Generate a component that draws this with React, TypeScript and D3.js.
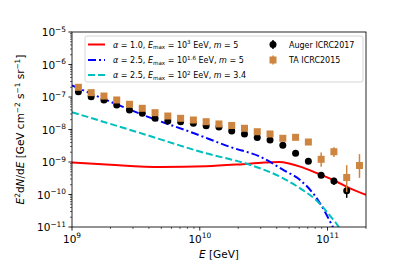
import { useEffect } from 'react';
import * as d3 from 'd3';

// Auger ICRC2017 (log10 E/GeV bin centres, E^2 dN/dE)
const augerLogE = [9.05, 9.15, 9.25, 9.35, 9.45, 9.55, 9.65, 9.75, 9.85, 9.95, 10.05, 10.15, 10.25, 10.35, 10.45, 10.55, 10.65, 10.75, 10.85, 10.95, 11.05, 11.15];
const augerFlux = [1.46e-7, 1.02e-7, 8.1e-8, 5.7e-8, 4.0e-8, 3.15e-8, 2.2e-8, 1.83e-8, 1.74e-8, 1.55e-8, 1.31e-8, 1.19e-8, 9.0e-9, 7.3e-9, 5.7e-9, 4.75e-9, 3.27e-9, 1.85e-9, 1.05e-9, 3.9e-10, 2.6e-10, 1.31e-10];
// error bars in dex (up / down)
const augerErrUp = [0.02, 0.02, 0.02, 0.02, 0.02, 0.02, 0.02, 0.02, 0.02, 0.02, 0.02, 0.02, 0.02, 0.02, 0.02, 0.02, 0.03, 0.03, 0.04, 0.06, 0.1, 0.145];
const augerErrDown = [0.02, 0.02, 0.02, 0.02, 0.02, 0.02, 0.02, 0.02, 0.02, 0.02, 0.02, 0.02, 0.02, 0.02, 0.02, 0.02, 0.03, 0.03, 0.04, 0.06, 0.12, 0.22];

// TA ICRC2015
const taLogE = [9.05, 9.15, 9.25, 9.35, 9.45, 9.55, 9.65, 9.75, 9.85, 9.95, 10.05, 10.15, 10.25, 10.35, 10.45, 10.55, 10.65, 10.75, 10.85, 10.95, 11.05, 11.15, 11.25];
const taFlux = [1.99e-7, 1.36e-7, 1.07e-7, 8.1e-8, 5.96e-8, 4.49e-8, 3.29e-8, 2.6e-8, 2.21e-8, 1.96e-8, 1.74e-8, 1.48e-8, 1.33e-8, 1.09e-8, 8.55e-9, 7.28e-9, 5.36e-9, 5.75e-9, 4.12e-9, 1.21e-9, 2.07e-9, 3.33e-10, 7.8e-10];
const taErrUp = [0.02, 0.02, 0.02, 0.02, 0.02, 0.02, 0.02, 0.02, 0.02, 0.02, 0.02, 0.02, 0.02, 0.03, 0.03, 0.03, 0.04, 0.04, 0.06, 0.21, 0.14, 0.38, 0.35];
const taErrDown = [0.02, 0.02, 0.02, 0.02, 0.02, 0.02, 0.02, 0.02, 0.02, 0.02, 0.02, 0.02, 0.02, 0.03, 0.03, 0.03, 0.04, 0.04, 0.06, 0.23, 0.16, 0.45, 0.38];

// model curves
const redE = [1e9, 2e9, 5e9, 1.12e10, 2e10, 3.2e10, 4.2e10, 5e10, 6.1e10, 8.3e10, 1.11e11, 1.5e11, 2e11];
const redFlux = [9.7e-10, 8.2e-10, 7.0e-10, 7.4e-10, 8.4e-10, 9.6e-10, 1.0e-9, 9.0e-10, 7.2e-10, 4.5e-10, 2.8e-10, 1.55e-10, 9.8e-11];

const blueE = [1e9, 2.3e9, 3.6e9, 8.9e9, 1.73e10, 3.0e10, 4.5e10, 6.1e10, 8.4e10, 1.1e11, 1.2e11];
const blueFlux = [2.26e-7, 5.7e-8, 2.8e-8, 7.8e-9, 2.9e-9, 1.43e-9, 5.7e-10, 2.8e-10, 6.8e-11, 1.0e-11, 5e-12];

const cyanE = [1e9, 3.35e9, 1.12e10, 2.5e10, 4.5e10, 6.1e10, 8.4e10, 1.06e11, 1.22e11, 1.35e11];
const cyanFlux = [3.4e-8, 8.0e-9, 1.85e-9, 8.1e-10, 3.15e-10, 1.55e-10, 6.0e-11, 2.07e-11, 1.0e-11, 4e-12];

const xTicks = [1e9, 1e10, 1e11];
const xTickExp = ['9', '10', '11'];
const yTicks = [1e-5, 1e-6, 1e-7, 1e-8, 1e-9, 1e-10, 1e-11];
const yTickExp = ['\u22125', '\u22126', '\u22127', '\u22128', '\u22129', '\u221210', '\u221211'];

const W = 407;
const H = 271;
const left = 72;
const right = 366;
const top = 32;
const bottom = 227;
const FONT = 'DejaVu Sans';

const x = d3.scaleLog().domain([1e9, 2e11]).range([left, right]);
const y = d3.scaleLog().domain([1e-11, 1e-5]).range([bottom, top]);

type Seg = { t: string; it?: boolean; sup?: boolean; sub?: boolean };

function MathText({ segs, size, ...rest }: { segs: Seg[]; size: number; [k: string]: any }) {
  // render segments with sub/superscripts via dy shifts
  let shift = 0;
  const out: any[] = [];
  segs.forEach((s, i) => {
    const target = s.sup ? -size * 0.42 : s.sub ? size * 0.22 : 0;
    const dy = target - shift;
    shift = target;
    out.push(
      <tspan
        key={i}
        dy={dy}
        fontStyle={s.it ? 'italic' : 'normal'}
        fontSize={s.sup || s.sub ? size * 0.7 : size}
      >
        {s.t}
      </tspan>
    );
  });
  return (
    <text fontFamily={FONT} fontSize={size} {...rest}>
      {out}
    </text>
  );
}

export default function App() {
  useEffect(() => {
    document.body.style.margin = '0';
  }, []);

  const mk = (es: number[], vs: number[]) =>
    d3
      .line<number>()
      .x((_, i) => x(es[i]))
      .y((_, i) => y(vs[i]))
      .curve(d3.curveMonotoneX)(vs.map((v) => v)) || '';

  const xMinor: number[] = [];
  [1e9, 1e10, 1e11].forEach((d) => {
    for (let k = 2; k <= 9; k++) if (d * k <= 2e11) xMinor.push(d * k);
  });
  const yMinor: number[] = [];
  [1e-11, 1e-10, 1e-9, 1e-8, 1e-7, 1e-6].forEach((d) => {
    for (let k = 2; k <= 9; k++) yMinor.push(d * k);
  });

  const lw = 0.85;
  const legTextX = 113;
  const legRows = [44.5, 60, 75];

  return (
    <svg width={W} height={H} style={{ position: 'absolute', left: 0, top: 0, background: '#fff' }}>
      <defs>
        <clipPath id="plotclip">
          <rect x={left} y={top} width={right - left} height={bottom - top} />
        </clipPath>
      </defs>

      <g clipPath="url(#plotclip)">
        <path d={mk(redE, redFlux)} fill="none" stroke="#ff0000" strokeWidth={2} />
        <path d={mk(blueE, blueFlux)} fill="none" stroke="#0000ff" strokeWidth={2} strokeDasharray="8,3,2,3" />
        <path d={mk(cyanE, cyanFlux)} fill="none" stroke="#00bfbf" strokeWidth={2} strokeDasharray="7,3" />

        {augerLogE.map((le, i) => {
          const cx = x(Math.pow(10, le));
          const v = augerFlux[i];
          return (
            <g key={'a' + i}>
              <line
                x1={cx}
                x2={cx}
                y1={y(v * Math.pow(10, augerErrUp[i]))}
                y2={y(v / Math.pow(10, augerErrDown[i]))}
                stroke="#000"
                strokeWidth={1.5}
              />
              <circle cx={cx} cy={y(v)} r={3.5} fill="#000" />
            </g>
          );
        })}
        {taLogE.map((le, i) => {
          const cx = x(Math.pow(10, le));
          const v = taFlux[i];
          return (
            <g key={'t' + i}>
              <line
                x1={cx}
                x2={cx}
                y1={y(v * Math.pow(10, taErrUp[i]))}
                y2={y(v / Math.pow(10, taErrDown[i]))}
                stroke="#cd853f"
                strokeWidth={1.5}
              />
              <rect x={cx - 3.5} y={y(v) - 3.5} width={7} height={7} fill="#cd853f" />
            </g>
          );
        })}
      </g>

      {/* spines */}
      <rect x={left} y={top} width={right - left} height={bottom - top} fill="none" stroke="#000" strokeWidth={lw} />

      {/* x ticks */}
      {xTicks.map((t, i) => (
        <g key={'xt' + i}>
          <line x1={x(t)} x2={x(t)} y1={bottom} y2={bottom + 3.6} stroke="#000" strokeWidth={lw} />
          <text x={x(t)} y={bottom + 15.5} fontFamily={FONT} fontSize={10.5} textAnchor="middle">
            <tspan>10</tspan>
            <tspan dy={-4.5} fontSize={7.4}>{xTickExp[i]}</tspan>
          </text>
        </g>
      ))}
      {xMinor.map((t, i) => (
        <line key={'xm' + i} x1={x(t)} x2={x(t)} y1={bottom} y2={bottom + 2} stroke="#000" strokeWidth={0.6} />
      ))}

      {/* y ticks */}
      {yTicks.map((t, i) => (
        <g key={'yt' + i}>
          <line x1={left - 3.6} x2={left} y1={y(t)} y2={y(t)} stroke="#000" strokeWidth={lw} />
          <text x={left - 6} y={y(t) + 4} fontFamily={FONT} fontSize={10.5} textAnchor="end">
            <tspan>10</tspan>
            <tspan dy={-4.5} fontSize={7.4}>{yTickExp[i]}</tspan>
          </text>
        </g>
      ))}
      {yMinor.map((t, i) => (
        <line key={'ym' + i} x1={left - 2} x2={left} y1={y(t)} y2={y(t)} stroke="#000" strokeWidth={0.6} />
      ))}

      {/* axis labels */}
      <MathText
        size={10.5}
        x={(left + right) / 2}
        y={258}
        textAnchor="middle"
        segs={[{ t: 'E', it: true }, { t: ' [GeV]' }]}
      />
      <MathText
        size={10.5}
        x={0}
        y={0}
        textAnchor="middle"
        transform={`translate(24, ${(top + bottom) / 2}) rotate(-90)`}
        segs={[
          { t: 'E', it: true },
          { t: '2', sup: true },
          { t: 'd' },
          { t: 'N', it: true },
          { t: '/d' },
          { t: 'E', it: true },
          { t: '  [GeV cm' },
          { t: '\u22122', sup: true },
          { t: ' s' },
          { t: '\u22121', sup: true },
          { t: ' sr' },
          { t: '\u22121', sup: true },
          { t: ']' },
        ]}
      />

      {/* legend */}
      <rect x={85} y={36} width={278} height={46} rx={2} fill="#fff" fillOpacity={0.8} stroke="#cccccc" strokeWidth={0.8} />
      <line x1={88} x2={105} y1={legRows[0]} y2={legRows[0]} stroke="#ff0000" strokeWidth={2} />
      <line x1={88} x2={105} y1={legRows[1]} y2={legRows[1]} stroke="#0000ff" strokeWidth={2} strokeDasharray="8,3,2,3" />
      <line x1={88} x2={105} y1={legRows[2]} y2={legRows[2]} stroke="#00bfbf" strokeWidth={2} strokeDasharray="7,3" />
      <MathText
        size={8}
        x={legTextX}
        y={legRows[0] + 3}
        segs={[
          { t: '\u03b1', it: true },
          { t: ' = 1.0, ' },
          { t: 'E', it: true },
          { t: 'max', sub: true },
          { t: ' = 10' },
          { t: '3', sup: true },
          { t: ' EeV, ' },
          { t: 'm', it: true },
          { t: ' = 5' },
        ]}
      />
      <MathText
        size={8}
        x={legTextX}
        y={legRows[1] + 3}
        segs={[
          { t: '\u03b1', it: true },
          { t: ' = 2.5, ' },
          { t: 'E', it: true },
          { t: 'max', sub: true },
          { t: ' = 10' },
          { t: '1.6', sup: true },
          { t: ' EeV, ' },
          { t: 'm', it: true },
          { t: ' = 5' },
        ]}
      />
      <MathText
        size={8}
        x={legTextX}
        y={legRows[2] + 3}
        segs={[
          { t: '\u03b1', it: true },
          { t: ' = 2.5, ' },
          { t: 'E', it: true },
          { t: 'max', sub: true },
          { t: ' = 10' },
          { t: '2', sup: true },
          { t: ' EeV, ' },
          { t: 'm', it: true },
          { t: ' = 3.4' },
        ]}
      />
      <circle cx={273} cy={legRows[0]} r={3.5} fill="#000" />
      <line x1={273} x2={273} y1={legRows[0] - 4.5} y2={legRows[0] + 4.5} stroke="#000" strokeWidth={1.5} />
      <rect x={269.5} y={legRows[1] - 3.5} width={7} height={7} fill="#cd853f" />
      <line x1={273} x2={273} y1={legRows[1] - 4.5} y2={legRows[1] + 4.5} stroke="#cd853f" strokeWidth={1.5} />
      <text x={289} y={legRows[0] + 3} fontFamily={FONT} fontSize={8}>Auger ICRC2017</text>
      <text x={289} y={legRows[1] + 3} fontFamily={FONT} fontSize={8}>TA ICRC2015</text>
    </svg>
  );
}
